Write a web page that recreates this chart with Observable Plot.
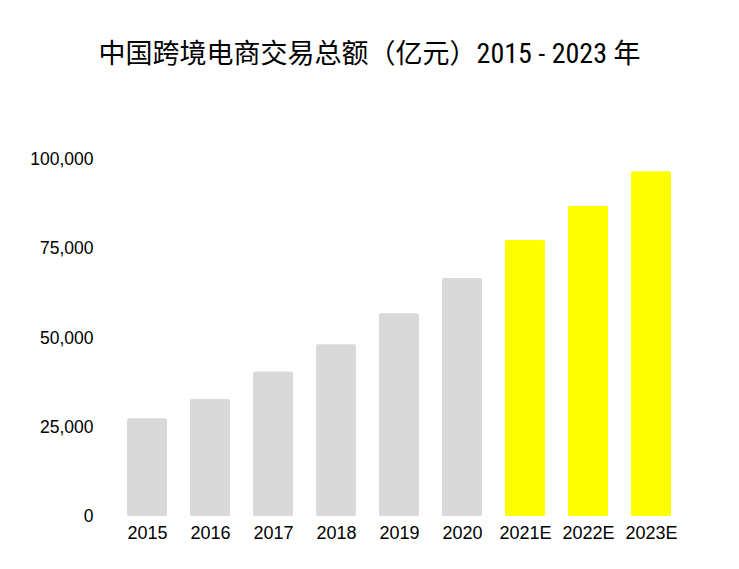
<!DOCTYPE html>
<html>
<head>
<meta charset="utf-8">
<script src="https://cdn.jsdelivr.net/npm/d3@7"></script>
<script src="https://cdn.jsdelivr.net/npm/@observablehq/plot@0.6"></script>
<style>
  body { margin: 0; background: #fff; }
  #title { height: 90px; box-sizing: border-box; padding-top: 34px; text-align: center;
    font-family: "Noto Sans CJK SC", sans-serif; font-size: 27px; line-height: 36px; color: #000; white-space: nowrap; }
  #title .num { font-family: "Liberation Sans Narrow", "Roboto Condensed", "Noto Sans CJK SC", sans-serif; font-size: 28px; }
  #chart svg { display: block; }
</style>
</head>
<body>
<div id="title">中国跨境电商交易总额（亿元）<span class="num">2015 - 2023 </span>年</div>
<div id="chart"></div>
<script>
const years = ["2015", "2016", "2017", "2018", "2019", "2020", "2021E", "2022E", "2023E"];
const values = [27400, 32800, 40500, 48100, 56800, 66700, 77300, 86800, 96600];
const isEstimate = [false, false, false, false, false, false, true, true, true];
const yTicks = [0, 25000, 50000, 75000, 100000];

const data = years.map((y, i) => ({year: y, value: values[i], kind: isEstimate[i] ? "estimate" : "actual"}));

const chart = Plot.plot({
  width: 739,
  height: 470,
  marginTop: 69,
  marginBottom: 44,
  marginLeft: 103,
  marginRight: 44,
  style: {fontFamily: "'Liberation Sans', Arial, sans-serif", fontSize: "17px", color: "#000", background: "#fff"},
  x: {domain: years, padding: 0.367, label: null},
  y: {domain: [0, 100000], label: null},
  color: {domain: ["actual", "estimate"], range: ["#d9d9d9", "#ffff00"]},
  marks: [
    Plot.axisX({tickSize: 0, tickPadding: 10, fontSize: 18}),
    Plot.axisY({ticks: yTicks, tickFormat: d3.format(","), tickSize: 0, tickPadding: 10, fontSize: 17.5}),
    Plot.barY(data, {x: "year", y: "value", fill: "kind", rx: 2})
  ]
});
document.getElementById("chart").appendChild(chart);
</script>
</body>
</html>
